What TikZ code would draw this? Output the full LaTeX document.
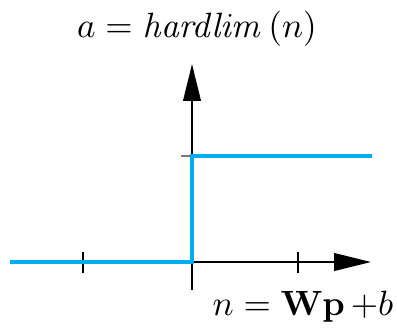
\documentclass[tikz,border=0pt]{standalone}
\usepackage{amsmath}
\usetikzlibrary{arrows.meta}
\definecolor{tcol}{RGB}{  0,174,239}
\definecolor{gcol}{RGB}{120,120,120}
\tikzset{
  AX/.style={black, line width=0.6pt, -{Triangle[length=10.5pt, width=5pt]}},
  TK/.style={black, line width=0.5pt},
  TF/.style={tcol, line width=1.4pt},
}

\begin{document}
\begin{tikzpicture}[x=0.01cm, y=-0.01cm]
  \useasboundingbox (0,0) rectangle (397,327);

  %% ================================================================
  %%  AXES
  %% ================================================================
  \coordinate (O)  at (192,262);
  \coordinate (nE) at (371,262);
  \coordinate (aN) at (192,64);
  \coordinate (nW) at (10,262);

  \draw[AX] (nW) -- (nE);
  \draw[AX] (O) -- (aN);

  % ticks
  \draw[TK] (83,252) -- (83,273);
  \draw[TK] (298,252) -- (298,273);
  \draw[TK] (O) -- (192,290);
  \draw[gcol, line width=0.6pt] (181,156) -- (O |- 0,156);

  %% ================================================================
  %%  TRANSFER FUNCTION
  %% ================================================================
  \draw[TF] (nW) -- (O) -- (192,156) -- (372,156);

  % labels
  \node[anchor=base, inner sep=0pt] (fn) at (197,37) {$a = \mathit{hardlim}\,(n)$};
  \node[anchor=base east, inner sep=0pt] (in) at (394,315) {$n = \mathbf{Wp}\,{+}b$};
\end{tikzpicture}
\end{document}
